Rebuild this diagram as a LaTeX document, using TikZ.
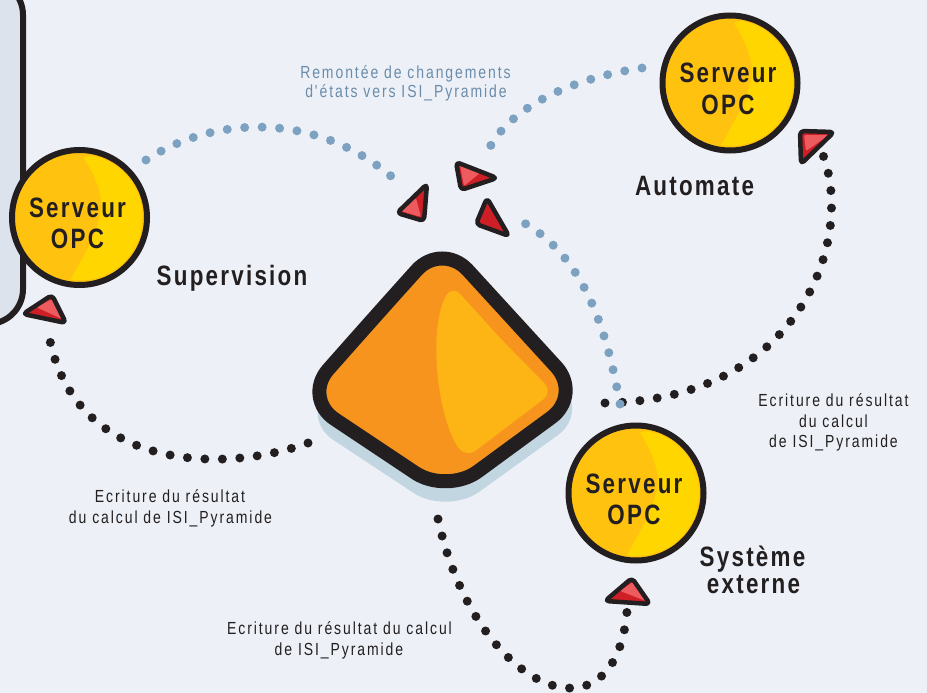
\documentclass[tikz,border=0pt]{standalone}
\usepackage{fontspec}
\usetikzlibrary{calc}
\setmainfont{Liberation Sans}
\newfontfamily\lblfont[FakeStretch=0.8,LetterSpace=11]{Liberation Sans}
\newfontfamily\bigfont[FakeStretch=0.8,LetterSpace=8]{Liberation Sans}
\definecolor{bg}{HTML}{EDF1F7}
\definecolor{panel}{HTML}{DDE3EC}
\definecolor{ink}{HTML}{231F20}
\definecolor{dotblue}{HTML}{7DA1C0}
\definecolor{txtblue}{HTML}{6B8CAA}
\definecolor{srvdark}{HTML}{FFC20E}
\definecolor{srvlight}{HTML}{FFD600}
\definecolor{pyrorange}{HTML}{F7941D}
\definecolor{pyrlight}{HTML}{FDB515}
\definecolor{pyrshadow}{HTML}{C2D6E1}
\definecolor{reddark}{HTML}{CE1F27}
\definecolor{redlight}{HTML}{EE5B5F}
\tikzset{
  bluedots/.style={draw=dotblue, line width=9pt, line cap=round, dash pattern=on 0pt off 17.5pt},
  blackdots/.style={draw=ink, line width=9pt, line cap=round, dash pattern=on 0pt off 17.5pt},
  redline/.style={draw=ink, line width=4.5pt, line join=round, rounded corners=4pt},
  smalllbl/.style={font=\lblfont\fontsize{17.5}{21}\selectfont, text=ink, anchor=base, inner sep=0pt},
  bluelbl/.style={smalllbl, text=txtblue},
  biglbl/.style={font=\bigfont\bfseries\fontsize{28}{32}\selectfont, text=ink, anchor=base, inner sep=0pt},
}
\newcommand{\opcsrv}[2]{%
  \begin{scope}[shift={#2}]
    \fill[srvdark] (0,0) circle (67);
    \begin{scope}
      \clip (0,0) circle (63);
      \fill[srvlight] (4,-60) .. controls (20,-35) and (25,-15) .. (20,0)
        .. controls (14,25) and (0,45) .. (-10,64) -- (80,80) -- (80,-80) -- cycle;
    \end{scope}
    \node[circle, draw=ink, line width=6pt, minimum size=135pt, inner sep=0pt] (#1) at (0,0) {};
    \node[biglbl] (#1a) at (-2,0) {Serveur};
    \node[biglbl] (#1b) at (-2,31) {OPC};
  \end{scope}}
\newcommand{\rtri}[4]{%
  \fill[reddark, rounded corners=4pt] ($#1!0.5!#2$) -- #2 -- #3 -- #1 -- cycle;
  \fill[redlight, rounded corners=2pt] #4;
  \draw[redline] ($#1!0.5!#2$) -- #2 -- #3 -- #1 -- cycle;}
\def\pyrpath{(372,320) -- (442,242) -- (582,395) -- (447,494) -- (303,398) -- cycle}
\def\shadowpath{(371,344) -- (442,270) -- (590,412) -- (447,515) -- (300,418) -- cycle}
\begin{document}
\begin{tikzpicture}[x=1pt,y=-1pt]
\useasboundingbox (0,0) rectangle (927,693);
\fill[bg] (0,0) rectangle (927,693);
% left panel
\filldraw[fill=panel, draw=ink, line width=6pt, rounded corners=35pt] (-40,-20) -- (23,-20) -- (23,324) -- (-40,324);
% pyramid
\fill[pyrshadow, rounded corners=40pt] \shadowpath;
\filldraw[fill=pyrorange, draw=ink, line width=14pt, rounded corners=38pt] \pyrpath;
\fill[pyrlight, rounded corners=12pt] (500,338) -- (553,392) -- (466,458) .. controls (438,420) and (427,330) .. (452,285) -- cycle;
\coordinate (pyr) at (445,390);
% servers
\opcsrv{sup}{(79.5,217.5)}
\opcsrv{aut}{(730,83)}
\opcsrv{ext}{(636,493)}
% connector end points
\coordinate (g0) at (146,160);  \coordinate (g1) at (400,184);
\coordinate (b0) at (642,68);   \coordinate (b1) at (485,158);
\coordinate (c0) at (620,404);  \coordinate (c1) at (515,218);
\coordinate (d0) at (605,403);  \coordinate (d1) at (823,155);
\coordinate (e0) at (308,443);  \coordinate (e1) at (48,330);
\coordinate (f0) at (438,519);  \coordinate (f1) at (627,611);
% dotted connectors
\draw[blackdots] (d0) .. controls (800,400) and (855,240) .. (d1);
\draw[blackdots] (e0) .. controls (220,475) and (70,470) .. (e1);
\draw[blackdots] (f0) .. controls (475,690) and (615,750) .. (f1);
\draw[bluedots] (g0) .. controls (215,115) and (320,110) .. (g1);
\draw[bluedots] (b0) .. controls (560,80) and (500,115) .. (b1);
\draw[bluedots] (c0) .. controls (605,320) and (580,250) .. (c1);
% arrowheads
\rtri{(427,184)}{(397,213)}{(424,221)}{(401,211) -- (416,198) -- (421,217) -- cycle}
\rtri{(456,162)}{(497,178)}{(461,190)}{(460,165) -- (480,173) -- (464,186) -- cycle}
\rtri{(487,198)}{(476,224)}{(509,236)}{(487,214) -- (487,214) -- cycle}
\rtri{(23,314)}{(52,295)}{(66,323)}{(36,307) -- (52,299) -- (62,319) -- cycle}
\rtri{(800,131)}{(834,132)}{(801,164)}{(804,135) -- (829,135) -- (806,151) -- cycle}
\rtri{(605,601)}{(632,578)}{(650,604)}{(620,591) -- (633,582) -- (646,601) -- cycle}
% labels
\node[bluelbl] (tb1) at (405.5,78) {Remontée de changements};
\node[bluelbl] (tb2) at (406,98) {d'états vers ISI\_Pyramide};
\node[biglbl] (lsup) at (232,285) {Supervision};
\node[biglbl] (laut) at (694.5,195) {Automate};
\node[biglbl] (lext1) at (752.5,566) {Système};
\node[biglbl] (lext2) at (753.5,593) {externe};
\node[smalllbl] (r1) at (833.5,406) {Ecriture du résultat};
\node[smalllbl] (r2) at (833.5,427) {du calcul};
\node[smalllbl] (r3) at (833.5,447) {de ISI\_Pyramide};
\node[smalllbl] (l1) at (170,502) {Ecriture du résultat};
\node[smalllbl] (l2) at (170.5,523) {du calcul de ISI\_Pyramide};
\node[smalllbl] (m1) at (339.5,634) {Ecriture du résultat du calcul};
\node[smalllbl] (m2) at (339,655) {de ISI\_Pyramide};
\end{tikzpicture}
\end{document}
